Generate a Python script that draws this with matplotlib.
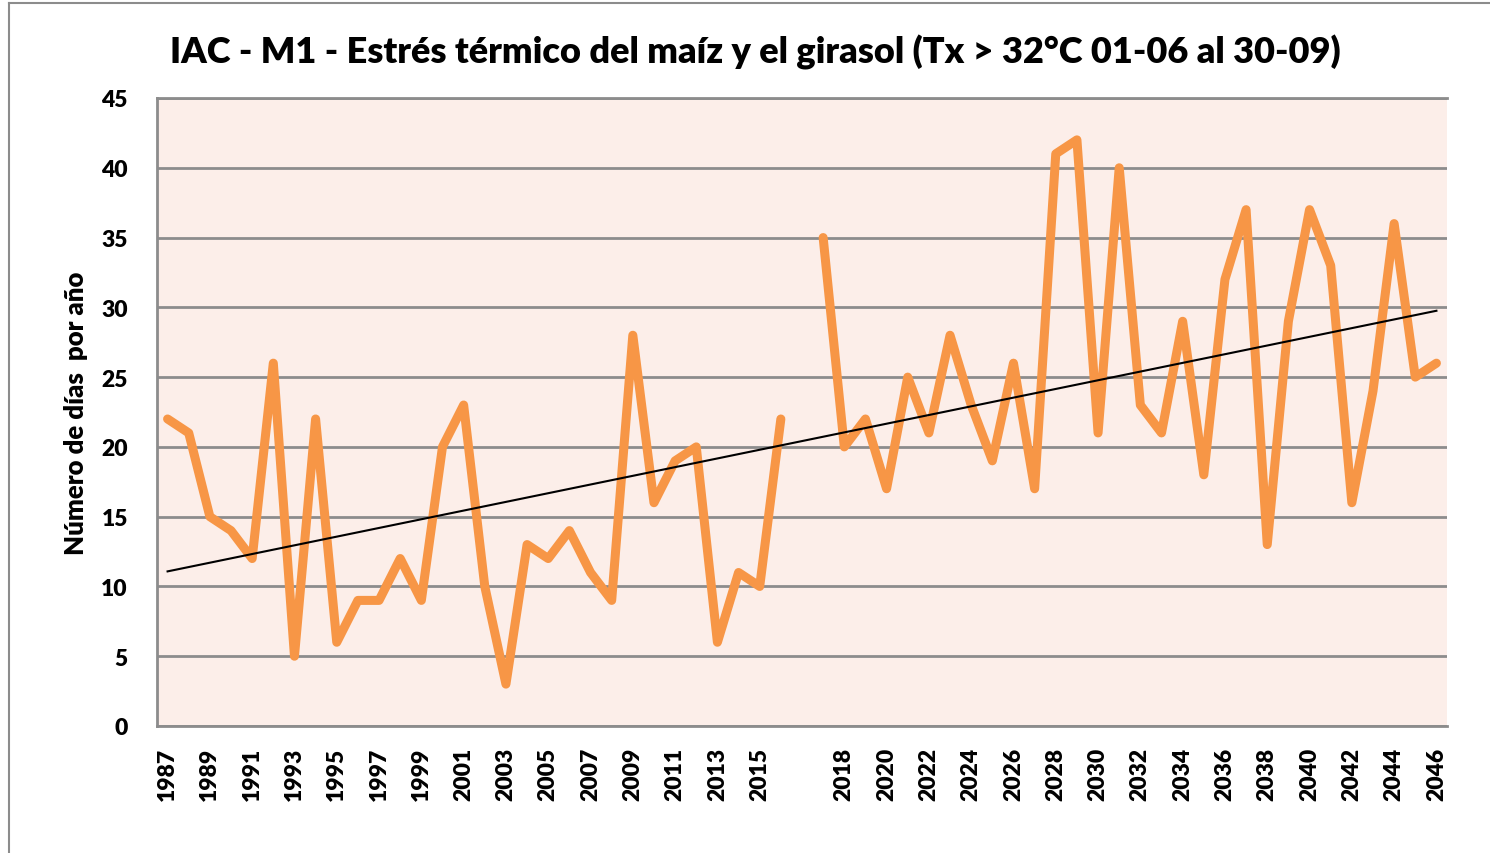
import numpy as np
import matplotlib
matplotlib.use("Agg")
import matplotlib.pyplot as plt
from matplotlib.lines import Line2D

years_a = list(range(1987, 2017))
values_a = [22, 21, 15, 14, 12, 26, 5, 22, 6, 9, 9, 12, 9, 20, 23,
            10, 3, 13, 12, 14, 11, 9, 28, 16, 19, 20, 6, 11, 10, 22]
years_b = list(range(2017, 2047))
values_b = [35, 20, 22, 17, 25, 21, 28, 23, 19, 26, 17, 41, 42, 21, 40,
            23, 21, 29, 18, 32, 37, 13, 29, 37, 33, 16, 24, 36, 25, 26]

categories = [str(y) for y in years_a] + [""] + [str(y) for y in years_b]
values = values_a + [np.nan] + values_b

title = "IAC - M1 - Estrés térmico del maíz y el girasol (Tx > 32°C 01-06 al 30-09)"
ylabel = "Número de días  por año"

W, H = 1490, 854
fig = plt.figure(figsize=(W / 100, H / 100), dpi=100)
ax = fig.add_axes([157 / W, 1 - 727 / H, (1447 - 157) / W, (727 - 99) / H])

font = "Lato"
weight = "heavy"
x = np.arange(len(categories))
y = np.array(values, dtype=float)

ax.set_facecolor("#FCEEE9")
ax.set_xlim(-0.5, len(categories) - 0.5)
ax.set_ylim(0, 45)
ax.set_yticks(np.arange(0, 46, 5))
ax.yaxis.grid(True, color="#8C8C8C", linewidth=2.0)
ax.set_axisbelow(True)

mask = ~np.isnan(y)
ax.plot(x, y, color="#F79646", linewidth=6.5, solid_joinstyle="round",
        solid_capstyle="round", zorder=3)

coef = np.polyfit(x[mask], y[mask], 1)
xt = np.array([x[0], x[-1]])
ax.plot(xt, np.polyval(coef, xt), color="black", linewidth=1.5, zorder=4)

ax.set_xticks(x[::2])
ax.set_xticklabels(categories[::2], rotation=90, fontsize=16.5,
                   fontweight=weight, family=font)
ax.tick_params(axis="x", length=0, pad=15)
ax.tick_params(axis="y", length=0, pad=21)
for lab in ax.get_yticklabels():
    lab.set_fontsize(16.5)
    lab.set_fontweight(weight)
    lab.set_family(font)

for s in ["left", "bottom", "top"]:
    ax.spines[s].set_color("#8C8C8C")
    ax.spines[s].set_linewidth(2.0)
ax.spines["right"].set_visible(False)

fig.text(76 / W, 1 - 413 / H, ylabel, rotation=90, ha="center", va="center",
         fontsize=18.5, fontweight=weight, family=font)

fig.text(755 / W, 1 - 52 / H, title, ha="center", va="center",
         fontsize=26, fontweight=weight, family=font)

# outer chart frame
fig.add_artist(Line2D([9 / W, 9 / W], [0, 1 - 4 / H], transform=fig.transFigure,
                      color="#8C8C8C", linewidth=1.5))
fig.add_artist(Line2D([9 / W, 1], [1 - 4 / H, 1 - 4 / H], transform=fig.transFigure,
                      color="#8C8C8C", linewidth=1.5))

fig.savefig("out.png", dpi=100)
